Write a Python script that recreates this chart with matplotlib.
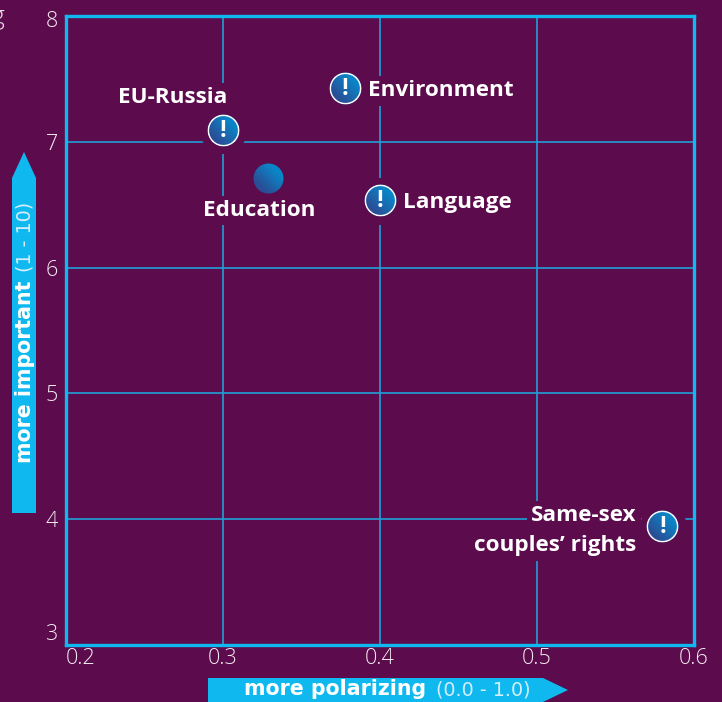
import numpy as np
import matplotlib
matplotlib.use('Agg')
import matplotlib.pyplot as plt
from matplotlib.offsetbox import OffsetImage, AnnotationBbox
from matplotlib.patches import Polygon
from matplotlib.transforms import ScaledTranslation

# values
topics = ['EU-Russia', 'Environment', 'Education', 'Language', 'Same-sex\ncouples\u2019 rights']
polarizing = [0.300, 0.378, 0.329, 0.400, 0.580]
importance = [7.09, 7.42, 6.71, 6.53, 3.94]
flagged = [True, True, False, True, True]
x_ticks = [0.2, 0.3, 0.4, 0.5, 0.6]
y_ticks = [3, 4, 5, 6, 7, 8]

BG = '#5c0b4c'
CYAN = '#0fb9ef'
GRID = '#1f9fd6'
W, H = 722, 702

plt.rcParams['font.family'] = ['Open Sans', 'DejaVu Sans']


def fx(px):
    return px / W


def fy(py):
    return 1 - py / H


def ball(radius, ring):
    # round blue gradient image, white ring on the flagged ones
    size = radius * 2 + 1
    yy, xx = np.mgrid[0:size, 0:size] - radius
    t = np.clip((yy - xx) / (2.0 * radius) + 0.5, 0, 1)
    img = np.zeros((size, size, 4))
    c1 = np.array([0x0a, 0x86, 0xc8]) / 255
    c2 = np.array([0x2a, 0x4f, 0x97]) / 255
    # lighter at the top right, darker at the bottom left
    for i in range(3):
        img[..., i] = c1[i] * (1 - t) + c2[i] * t
    r = np.hypot(xx, yy)
    img[..., 3] = np.clip(radius + 0.5 - r, 0, 1)
    if ring:
        edge = np.clip(1.3 - np.abs(r - (radius - 0.8)), 0, 1)
        for i in range(3):
            img[..., i] = img[..., i] * (1 - edge) + edge
    return img


fig = plt.figure(figsize=(W / 100, H / 100), dpi=100, facecolor=BG)
ax = fig.add_axes([fx(66), fy(645), 628 / W, 629 / H], facecolor=BG)
ax.set_xlim(0.2, 0.6)
ax.set_ylim(3, 8)
ax.set_xticks(x_ticks)
ax.set_xticklabels(['%.1f' % v for v in x_ticks], fontweight='light')
ax.set_yticks(y_ticks)
ax.set_yticklabels([str(v) for v in y_ticks], fontweight='light')
ax.tick_params(length=0, colors='#f2ebf0', labelsize=15.5)
ax.tick_params(axis='x', pad=2)
ax.tick_params(axis='y', pad=6)
ax.get_xticklabels()[0].set_ha('left')
ax.get_yticklabels()[0].set_va('bottom')
lab8 = ax.get_yticklabels()[-1]
lab8.set_transform(lab8.get_transform() + ScaledTranslation(0, -2 / 72, fig.dpi_scale_trans))
ax.grid(color=GRID, lw=1.2, zorder=1)
ax.set_axisbelow(True)
for s in ax.spines.values():
    s.set_color(CYAN)
    s.set_linewidth(2.4)

# label placement: offset of each line in pixels and alignment
label_pos = {
    'EU-Russia': ([(-50, 33)], 'center'),
    'Environment': ([(23, -2)], 'left'),
    'Education': ([(-9, -32)], 'center'),
    'Language': ([(23, -2)], 'left'),
    'Same-sex\ncouples\u2019 rights': ([(-26, 11), (-26, -19)], 'right'),
}

for name, x, y, flag in zip(topics, polarizing, importance, flagged):
    if flag:
        ax.scatter([x], [y], s=1150, color=BG, lw=0, zorder=2)
    ab = AnnotationBbox(OffsetImage(ball(16 if flag else 15, flag), zoom=1, dpi_cor=False),
                        (x, y), frameon=False, pad=0, zorder=4)
    ax.add_artist(ab)
    if flag:
        ax.text(x, y - 0.004, '!', color='white', ha='center', va='center',
                fontsize=17, fontweight='bold', zorder=5)
    offsets, ha = label_pos[name]
    # each line gets its own background so the grid gap follows the line width
    for line, (dx, dy) in zip(name.split('\n'), offsets):
        ax.annotate(line, (x, y), xytext=(dx * 0.72, dy * 0.72), textcoords='offset points',
                    ha=ha, va='center', color='white', fontsize=16.2, fontweight='bold',
                    zorder=3, bbox=dict(facecolor=BG, edgecolor='none', pad=3))

# arrows
fig.add_artist(Polygon([(fx(12), fy(513)), (fx(36), fy(513)), (fx(36), fy(178)),
                        (fx(24), fy(152)), (fx(12), fy(178))],
                       closed=True, transform=fig.transFigure, color=CYAN, lw=0))
fig.add_artist(Polygon([(fx(208), fy(702)), (fx(543), fy(702)), (fx(568), fy(690)),
                        (fx(543), fy(678)), (fx(208), fy(678))],
                       closed=True, transform=fig.transFigure, color=CYAN, lw=0))

fig.text(fx(244), fy(689), 'more polarizing', color='white', fontsize=14.8,
         fontfamily='DejaVu Sans', fontweight='bold', ha='left', va='center')
fig.text(fx(436), fy(690), '(0.0 - 1.0)', color='#d5eefa', fontsize=13.8,
         fontfamily='DejaVu Sans', ha='left', va='center')
fig.text(fx(25), fy(463), 'more important', color='white', fontsize=14.8, rotation=90,
         fontfamily='DejaVu Sans', fontweight='bold', ha='center', va='bottom')
fig.text(fx(25), fy(272), '(1 - 10)', color='#d5eefa', fontsize=13.8, rotation=90,
         fontfamily='DejaVu Sans', ha='center', va='bottom')

# cut-off letter at the image edge
fig.text(fx(4), fy(17), 'g', color='#e8dfe6', fontsize=19, fontweight='light', ha='right', va='center')

fig.savefig('out.png', dpi=100, facecolor=BG)
